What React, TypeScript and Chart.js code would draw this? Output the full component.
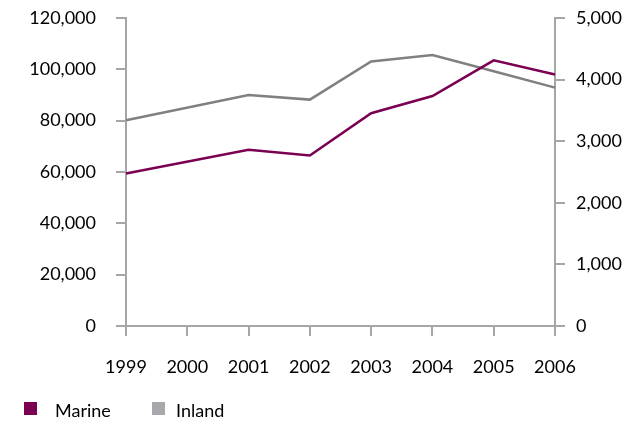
import React, { useEffect, useRef } from "react";
import { Chart, registerables } from "chart.js";

Chart.register(...registerables);

const years = ["1999", "2000", "2001", "2002", "2003", "2004", "2005", "2006"];
const marine = [59400, null, 68700, 66400, 82900, 89600, 103500, 98000];
const inland = [3340, null, 3750, 3675, 4295, 4400, 4135, 3870];

const MARINE_COLOR = "#7B0052";
const INLAND_COLOR = "#808080";
const INLAND_BOX = "#A7A8AB";
const AXIS = "#A6A6A6";
const FONT = "Lato";

export default function App() {
  const ref = useRef<HTMLCanvasElement | null>(null);
  useEffect(() => {
    if (!ref.current) return;
    const chart = new Chart(ref.current, {
      type: "line",
      data: {
        labels: years,
        datasets: [
          {
            label: "Marine",
            data: marine,
            borderColor: MARINE_COLOR,
            backgroundColor: MARINE_COLOR,
            borderWidth: 2.5,
            pointRadius: 0,
            tension: 0,
            spanGaps: true,
            yAxisID: "y",
          },
          {
            label: "Inland",
            data: inland,
            borderColor: INLAND_COLOR,
            backgroundColor: INLAND_BOX,
            borderWidth: 2.5,
            pointRadius: 0,
            tension: 0,
            spanGaps: true,
            yAxisID: "y1",
          },
        ],
      },
      options: {
        animation: false,
        responsive: false,
        maintainAspectRatio: false,
        layout: { padding: { top: 18, left: 0, right: 0, bottom: 0 } },
        plugins: { legend: { display: false }, tooltip: { enabled: false } },
        scales: {
          x: {
            grid: {
              drawOnChartArea: false,
              drawTicks: true,
              tickLength: 10,
              color: AXIS,
              lineWidth: 2,
            },
            border: { display: true, color: AXIS, width: 2 },
            ticks: {
              color: "#000",
              font: { family: FONT, size: 18 },
              padding: 20,
              maxRotation: 0,
              autoSkip: false,
            },
            afterFit: (s: any) => {
              s.height = 95;
              s.paddingLeft = 0;
              s.paddingRight = 0;
            },
          },
          y: {
            position: "left",
            min: 0,
            max: 120000,
            grid: {
              drawOnChartArea: false,
              drawTicks: true,
              tickLength: 10,
              color: AXIS,
              lineWidth: 2,
            },
            border: { display: true, color: AXIS, width: 2 },
            ticks: {
              stepSize: 20000,
              color: "#000",
              font: { family: FONT, size: 18 },
              padding: 20,
              callback: (v: any) => Number(v).toLocaleString("en-US"),
            },
            afterFit: (s: any) => {
              s.width = 126;
              s.paddingTop = 0;
              s.paddingBottom = 0;
            },
          },
          y1: {
            position: "right",
            min: 0,
            max: 5000,
            grid: {
              drawOnChartArea: false,
              drawTicks: true,
              tickLength: 10,
              color: AXIS,
              lineWidth: 2,
            },
            border: { display: true, color: AXIS, width: 2 },
            ticks: {
              stepSize: 1000,
              color: "#000",
              font: { family: FONT, size: 18 },
              padding: 11,
              callback: (v: any) => Number(v).toLocaleString("en-US"),
            },
            afterFit: (s: any) => {
              s.width = 72;
              s.paddingTop = 0;
              s.paddingBottom = 0;
            },
          },
        },
      },
    });
    return () => chart.destroy();
  }, []);

  const legendText: React.CSSProperties = {
    position: "absolute",
    top: 400,
    fontFamily: FONT,
    fontSize: 18,
    lineHeight: "20px",
    color: "#000",
  };
  const box = (left: number, color: string): React.CSSProperties => ({
    position: "absolute",
    left,
    top: 402,
    width: 13,
    height: 13,
    background: color,
  });

  return (
    <div style={{ position: "fixed", left: 0, top: 0, width: 627, height: 421, background: "#fff" }}>
      <canvas ref={ref} width={627} height={421} style={{ display: "block" }} />
      <div style={box(24, MARINE_COLOR)} />
      <div style={{ ...legendText, left: 55 }}>Marine</div>
      <div style={box(152, INLAND_BOX)} />
      <div style={{ ...legendText, left: 176 }}>Inland</div>
    </div>
  );
}
